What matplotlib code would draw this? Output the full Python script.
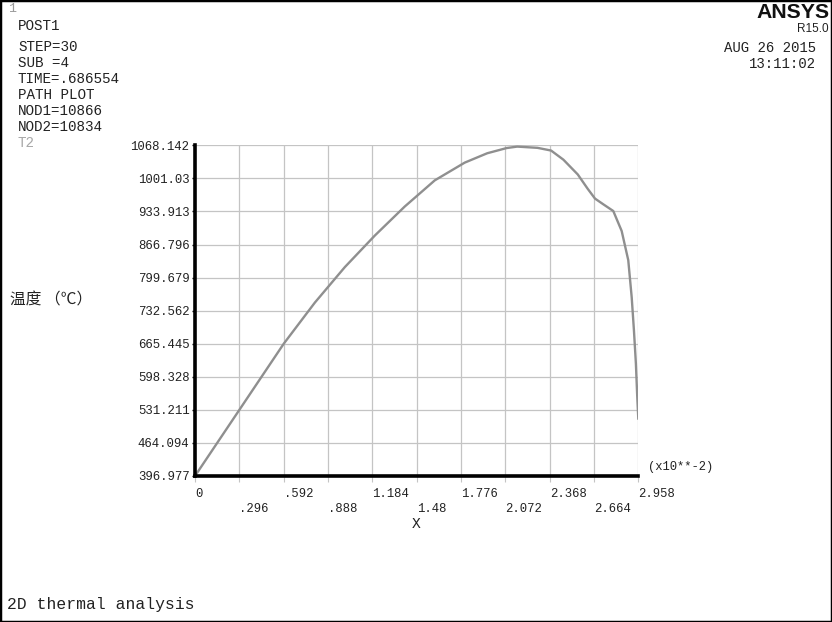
import matplotlib.pyplot as plt
from matplotlib.patches import Rectangle

# path plot data (x in units of 1e-2)
x_vals = [0, 0.296, 0.592, 0.8, 1.0, 1.2, 1.4, 1.6, 1.8, 1.95, 2.08, 2.15,
          2.285, 2.376, 2.458, 2.554, 2.62, 2.669, 2.724, 2.791, 2.847, 2.891,
          2.914, 2.929, 2.942, 2.951, 2.958]
temp_vals = [397.0, 531.2, 665.4, 749.0, 821.0, 885.0, 944.0, 997.0, 1033.0,
             1052.0, 1062.6, 1065.5, 1063.0, 1057.5, 1039.0, 1009.0, 980.0, 960.0,
             948.5, 934.8, 894.3, 835.0, 759.5, 692.0, 624.8, 557.3, 513.6]

y_ticks = [396.977, 464.094, 531.211, 598.328, 665.445, 732.562, 799.679,
           866.796, 933.913, 1001.03, 1068.142]
y_labels = ["396.977", "464.094", "531.211", "598.328", "665.445", "732.562",
            "799.679", "866.796", "933.913", "1001.03", "1068.142"]
x_ticks = [0, 0.2958, 0.5916, 0.8874, 1.1832, 1.479, 1.7748, 2.0706, 2.3664, 2.6622, 2.958]
x_labels = ["0", ".296", ".592", ".888", "1.184", "1.48", "1.776", "2.072",
            "2.368", "2.664", "2.958"]

info_lines = ["POST1", "STEP=30", "SUB =4", "TIME=.686554", "PATH PLOT",
              "NOD1=10866", "NOD2=10834"]

mono = "Liberation Mono"
txt = "#222222"
W, H = 832, 622

fig = plt.figure(figsize=(8.32, 6.22), dpi=100)
fig.patches.append(Rectangle((0, 0), 1, 1, transform=fig.transFigure,
                             fill=False, edgecolor="black", linewidth=2.5))

ax = fig.add_axes([195 / W, 1 - 476 / H, 443.3 / W, 330.7 / H])
ax.plot(x_vals, temp_vals, color="#8f8f8f", linewidth=1.7)
ax.set_xlim(0, 2.958)
ax.set_ylim(396.977, 1068.142)

ax.set_yticks(y_ticks)
ax.set_yticklabels(y_labels, fontfamily=mono, fontsize=8.9, color=txt)
ax.set_xticks(x_ticks)
ax.set_xticklabels(x_labels, fontfamily=mono, fontsize=8.8, color=txt, ha="left")
ax.tick_params(axis="y", length=2, width=1, pad=2, color="black")
ax.tick_params(axis="x", length=4.3, width=0.8, pad=4.2, color="#c4c4c4")
for i, t in enumerate(ax.xaxis.get_major_ticks()):
    if i % 2 == 1:
        t.set_pad(15.3)

ax.grid(True, color="#c4c4c4", linewidth=0.9)
for side in ["top", "right"]:
    ax.spines[side].set_visible(False)
for side in ["left", "bottom"]:
    ax.spines[side].set_linewidth(2.6)
    ax.spines[side].set_color("black")
ax.set_axisbelow(True)

# text around the plot
fig.text(8 / W, 1 - 9 / H, "1", fontfamily=mono, fontsize=9.5, color="#9a9a9a", va="center")
for i, s in enumerate(info_lines):
    y = 26 if i == 0 else 47 + (i - 1) * 16
    fig.text(18 / W, 1 - y / H, s, fontfamily=mono, fontsize=10.3, color=txt, va="center")
fig.text(18 / W, 1 - 143 / H, "T2", fontfamily=mono, fontsize=10.3, color="#a8a8a8", va="center")

fig.text(830 / W, 1 - 13 / H, "ANSYS", fontfamily="Liberation Sans",
         fontweight="bold", fontsize=15.3, color="#111111", ha="right", va="center")
fig.text(829 / W, 1 - 29 / H, "R15.0", fontfamily="Liberation Sans", fontsize=8.5,
         color=txt, ha="right", va="center")
fig.text(816 / W, 1 - 48 / H, "AUG 26 2015", fontfamily=mono, fontsize=10.1,
         color=txt, ha="right", va="center")
fig.text(816 / W, 1 - 64 / H, "13:11:02", fontfamily=mono, fontsize=10.1,
         color=txt, ha="right", va="center")

fig.text(648 / W, 1 - 467 / H, "(x10**-2)", fontfamily=mono, fontsize=8.7, color=txt, va="center")
fig.text(416 / W, 1 - 524 / H, "X", fontfamily=mono, fontsize=10.5, color=txt,
         ha="center", va="center")
fig.text(10 / W, 1 - 300 / H, "温度 （℃）", fontfamily=["Noto Sans CJK SC", "DejaVu Sans"],
         fontsize=11.3, color=txt, va="center")
fig.text(7 / W, 1 - 605 / H, "2D thermal analysis", fontfamily=mono, fontsize=11.8,
         color=txt, va="center")

fig.savefig("out.png", dpi=100)
